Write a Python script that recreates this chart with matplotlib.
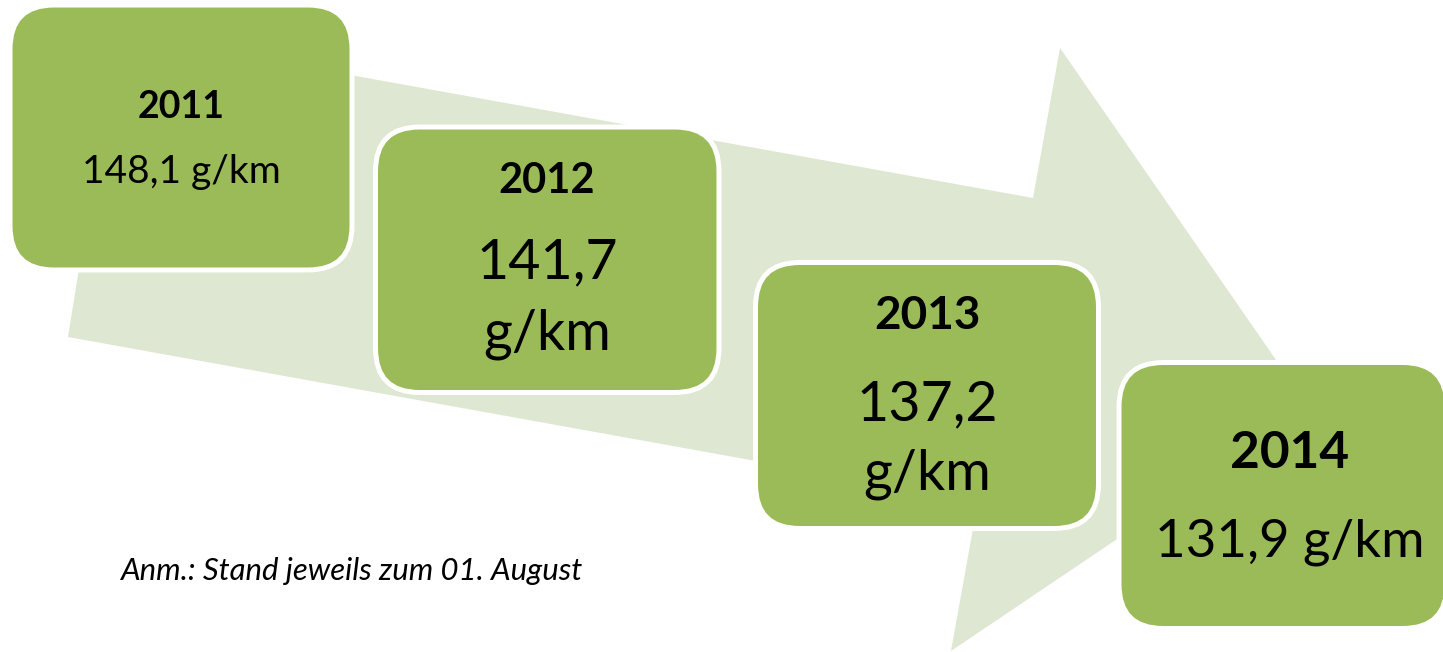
import matplotlib.pyplot as plt
from matplotlib.patches import FancyBboxPatch, Polygon

years = ['2011', '2012', '2013', '2014']
values = [148.1, 141.7, 137.2, 131.9]
unit = 'g/km'
note = 'Anm.: Stand jeweils zum 01. August'

# box geometry in pixels (x0, y0, x1, y1), y grows downwards
boxes = [(10, 5, 352, 270), (375.5, 127, 719, 392.5),
         (755.5, 262.5, 1098.5, 528.5), (1119, 362.5, 1447, 628.5)]
# text placement: center x, year baseline, value baselines
text_x = [181, 547, 927, 1290]
year_base = [118, 193, 329, 468]
value_base = [[183], [278, 350], [420, 489], [557]]
year_size = [27, 30, 33, 37]
value_size = [28, 40, 40, 38]

green = '#9BBB59'
light = '#DEE7D1'

W, H = 1443, 652
fig = plt.figure(figsize=(W / 100, H / 100), dpi=100)
ax = fig.add_axes([0, 0, 1, 1])
ax.set_xlim(0, W)
ax.set_ylim(H, 0)
ax.axis('off')

arrow = Polygon([(117, 33), (1033, 198), (1060, 48), (1310, 409),
                 (951, 651), (978, 501), (68, 337)],
                closed=True, facecolor=light, edgecolor='none', zorder=1)
ax.add_patch(arrow)

for i, (x0, y0, x1, y1) in enumerate(boxes):
    w, h = x1 - x0, y1 - y0
    r = 0.1667 * min(w, h)
    box = FancyBboxPatch((x0, y0), w, h,
                         boxstyle=f'round,pad=0,rounding_size={r}',
                         facecolor=green, edgecolor='white', linewidth=3.6,
                         zorder=2 + i)
    ax.add_patch(box)

    ax.text(text_x[i], year_base[i], years[i], ha='center', va='baseline',
            fontsize=year_size[i], fontweight='bold', family='Lato',
            color='black', zorder=10)
    val = f'{values[i]:.1f}'.replace('.', ',')
    if len(value_base[i]) == 1:
        lines = [f'{val} {unit}']
    else:
        lines = [val, unit]
    for line, yb in zip(lines, value_base[i]):
        ax.text(text_x[i], yb, line, ha='center', va='baseline',
                fontsize=value_size[i], family='Lato', color='black',
                zorder=10)

ax.text(120, 580, note, ha='left', va='baseline', fontsize=22.4,
        fontstyle='italic', family='Lato', color='black', zorder=10)

fig.savefig('out.png', dpi=100)
